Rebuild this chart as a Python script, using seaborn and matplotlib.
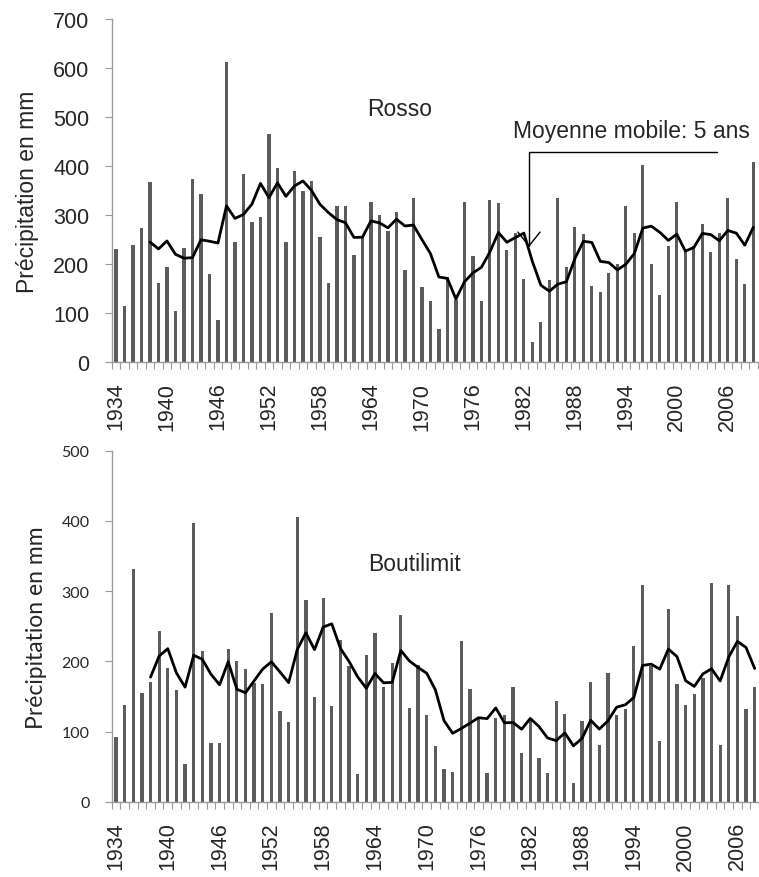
import numpy as np
import pandas as pd
import matplotlib
matplotlib.use("Agg")
import matplotlib.pyplot as plt
import seaborn as sns

# ---------------- data ----------------
years_rosso = list(range(1934, 2010))
rosso = [231, 114, 240, 274, 367, 161, 195, 104, 234, 373, 343, 180, 86, 612, 246,
         383, 286, 297, 466, 397, 246, 391, 349, 370, 255,
         161, 319, 319, 219, 257, 327, 300, 268, 307, 188, 336, 153, 125, 68, 173,
         127, 327, 216, 125, 330, 325, 228, 264,
         170, 41, 83, 167, 336, 194, 276, 261, 155, 143, 182, 201, 319, 264, 403,
         201, 138, 237, 327, 231, 237, 282, 225, 264, 336, 210, 159, 408]

years_bouti = list(range(1934, 2009))
boutilimit = [92, 138, 332, 155, 170, 243, 190, 159, 54, 397, 214, 84, 84, 218, 201,
              189, 169, 168, 269, 129, 113, 405, 287, 149,
              290, 136, 230, 194, 39, 209, 241, 164, 197, 266, 134, 195, 123, 79, 47,
              43, 229, 161, 118, 41, 119, 123, 163,
              70, 118, 62, 41, 144, 125, 26, 115, 170, 81, 184, 123, 132, 222, 309,
              194, 87, 275, 168, 138, 153, 176, 312, 81, 309, 264, 132, 163]

window = 5
station_top = "Rosso"
station_bottom = "Boutilimit"
ylabel = "Précipitation en mm"
annot_text = "Moyenne mobile: 5 ans"

# ---------------- style ----------------
sns.set_theme(style="white")
plt.rcParams["font.family"] = ["Liberation Sans", "DejaVu Sans"]

W, H = 759, 878
fig = plt.figure(figsize=(W / 100, H / 100), dpi=100)

ax1 = fig.add_axes([111.75 / W, 1 - 363.3 / H, 645.8 / W, 343.3 / H])
ax2 = fig.add_axes([111.7 / W, 1 - 802.7 / H, (759 - 111.7) / W, 351.0 / H])

BAR = "#5c5c5c"
SPINE = "#9a9a9a"


def draw(ax, years, vals, ymax, ytick_size, ylab_size, ylab_font):
    labels = [str(y) for y in years]
    df = pd.DataFrame({"year": labels, "val": vals})
    sns.barplot(data=df, x="year", y="val", color=BAR, saturation=1,
                width=0.38, edgecolor="none", linewidth=0, ax=ax)
    ma = pd.Series(vals).rolling(window).mean()
    sns.lineplot(x=np.arange(len(vals)), y=ma.values, color="black",
                 linewidth=2.0, ax=ax)
    n = len(vals)
    ax.set_xlim(-0.5, n - 0.5)
    ax.set_ylim(0, ymax)
    ax.set_yticks(np.arange(0, ymax + 1, 100))
    ax.set_xticks(np.arange(0, n, 6))
    ax.set_xticklabels(labels[::6], rotation=90, fontsize=15.5)
    ax.set_xticks(np.arange(-0.5, n, 1), minor=True)
    ax.tick_params(axis="x", which="major", length=0, pad=14)
    ax.tick_params(axis="x", which="minor", length=5, width=0.8, color=SPINE,
                   direction="out", bottom=True)
    ax.tick_params(axis="y", length=5, width=0.8, color=SPINE, direction="out",
                   left=True, pad=11, labelsize=ytick_size)
    for s in ["top", "right"]:
        ax.spines[s].set_visible(False)
    for s in ["left", "bottom"]:
        ax.spines[s].set_color(SPINE)
        ax.spines[s].set_linewidth(1.0)
    ax.set_xlabel("")
    ax.set_ylabel(ylabel, fontsize=ylab_size, family=ylab_font, labelpad=10)
    ax.grid(False)


draw(ax1, years_rosso, rosso, 700, 15.5, 16.5, ["Liberation Sans", "DejaVu Sans"])
draw(ax2, years_bouti, boutilimit, 500, 11.5, 16.5, ["Lato", "DejaVu Sans"])
for lab in ax2.get_yticklabels():
    lab.set_family(["Lato", "DejaVu Sans"])

ax1.text(33.4, 518, station_top, fontsize=16.5, ha="center", va="center")
ax2.text(34.6, 340, station_bottom, fontsize=16.5, ha="center", va="center")

ax1.text(60.7, 473, annot_text, fontsize=16.5, ha="center", va="center")
ax1.annotate("", xy=(48.6, 235), xytext=(70.7, 429),
             arrowprops=dict(arrowstyle="->,head_length=0.5,head_width=0.4",
                             connectionstyle="angle,angleA=0,angleB=90,rad=0",
                             color="black", lw=1.0, mutation_scale=20,
                             shrinkA=0, shrinkB=0))

fig.savefig("out.png", dpi=100)
